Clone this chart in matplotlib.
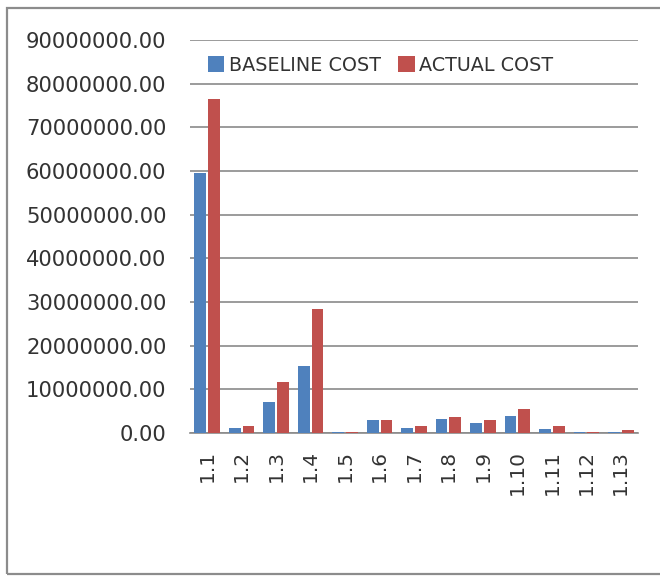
import matplotlib
matplotlib.use("Agg")
import matplotlib.pyplot as plt
from matplotlib.patches import Rectangle
from matplotlib.ticker import FuncFormatter, MultipleLocator
import numpy as np

categories = ["1.1", "1.2", "1.3", "1.4", "1.5", "1.6", "1.7", "1.8", "1.9", "1.10", "1.11", "1.12", "1.13"]
baseline_cost = [59600000, 1200000, 7200000, 15300000, 300000, 3000000, 1200000, 3300000, 2400000, 3900000, 900000, 300000, 300000]
actual_cost = [76500000, 1500000, 11600000, 28300000, 300000, 3000000, 1500000, 3600000, 3000000, 5600000, 1500000, 300000, 600000]
series_names = ["BASELINE COST", "ACTUAL COST"]
colors = ["#4F81BD", "#C0504D"]

W, H = 660, 576
fig = plt.figure(figsize=(W / 100, H / 100), dpi=100)
plt.rcParams['font.family'] = ['DejaVu Sans']

# outer chart border
fig.add_artist(Rectangle((7 / W, 2 / H), 1.2, (574 - 8) / H, transform=fig.transFigure,
                         fill=False, edgecolor="#8c8c8c", linewidth=1.6))

ax = fig.add_axes([190 / W, (H - 433) / H, 448 / W, (433 - 40) / H])

x = np.arange(len(categories))
w = 0.34
ax.bar(x - 0.2, baseline_cost, width=w, color=colors[0], label=series_names[0], zorder=3)
ax.bar(x + 0.2, actual_cost, width=w, color=colors[1], label=series_names[1], zorder=3)

ax.set_xlim(-0.5, len(categories) - 0.5)
ax.set_ylim(0, 90000000)
ax.yaxis.set_major_locator(MultipleLocator(10000000))
ax.yaxis.set_major_formatter(FuncFormatter(lambda v, p: f"{v:.2f}"))
ax.grid(axis="y", color="#8a8a8a", linewidth=1.2, zorder=0)
ax.set_axisbelow(True)

for s in ["top", "right", "left"]:
    ax.spines[s].set_visible(False)
ax.spines["bottom"].set_color("#8a8a8a")
ax.spines["bottom"].set_linewidth(1.2)

ax.set_xticks(x)
ax.set_xticklabels(categories, rotation=90)
ax.tick_params(axis="x", length=0, pad=12, labelsize=14.5, labelcolor="#333333")
ax.tick_params(axis="y", length=0, pad=17, labelsize=15.2, labelcolor="#333333")

leg = ax.legend(loc="upper left", bbox_to_anchor=(0.04, 0.96), ncol=2, frameon=False,
                fontsize=13.8, handlelength=0.85, handleheight=0.85, handletextpad=0.25,
                columnspacing=0.9, borderpad=0, borderaxespad=0)
for t in leg.get_texts():
    t.set_color("#333333")

fig.savefig("out.png", dpi=100)
